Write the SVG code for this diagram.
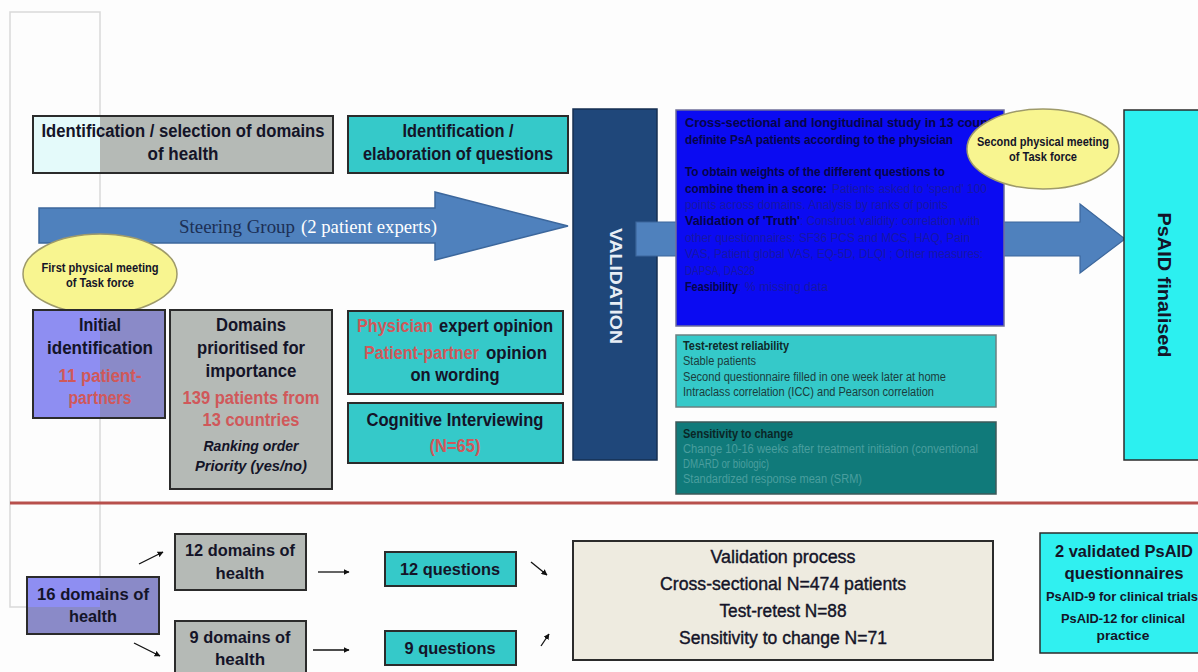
<svg xmlns="http://www.w3.org/2000/svg" width="1198" height="672" viewBox="0 0 1198 672">
<defs>
<style>
.bx{stroke:#2b2b2b;stroke-width:2}
.gray{fill:#b5bab6}
.teal{fill:#35c9c9}
.lav{fill:#8a8ac8}
.lavL{fill:#8e8ef2}
.ell{fill:#f8f590;stroke:#9e9a6a;stroke-width:1.5}
.t{font-family:"Liberation Sans",Arial,sans-serif;font-weight:bold;fill:#141428;text-anchor:middle}
.ts{font-family:"Liberation Sans",Arial,sans-serif;font-weight:bold;fill:#141428}
.red{fill:#d0585a}
.s18{font-size:18px}
.s17{font-size:17px}
.s12{font-size:12px}
.sm{font-family:"Liberation Sans",Arial,sans-serif;font-size:12px}
.bt{fill:#05054a;font-weight:bold}
.bn{fill:#1717a6}
.vp{font-weight:normal;stroke:#141428;stroke-width:0.4}
.conn{stroke:#111;stroke-width:1.3;fill:none;marker-end:url(#ah)}
</style>
<marker id="ah" viewBox="0 0 10 10" refX="9" refY="5" markerWidth="6" markerHeight="6" orient="auto" markerUnits="userSpaceOnUse">
<path d="M0,0 L10,5 L0,10 z" fill="#111"/>
</marker>
</defs>
<rect x="0" y="0" width="1198" height="672" fill="#fdfdfd"/>

<rect x="10" y="12" width="90" height="595" fill="none" stroke="#d9d9d9" stroke-width="1.5"/>

<g id="n-domains-header">
<rect class="bx gray" x="33" y="116" width="300" height="57"/>
<rect x="34" y="117" width="66" height="55" fill="#e4fafa"/>
<text class="t s18" x="183" y="137" textLength="283" lengthAdjust="spacingAndGlyphs">Identification / selection of domains</text>
<text class="t s18" x="183" y="160" textLength="71" lengthAdjust="spacingAndGlyphs">of health</text>
</g>

<g id="n-questions-header">
<rect class="bx teal" x="348" y="116" width="220" height="57"/>
<text class="t s18" x="458" y="137" textLength="111" lengthAdjust="spacingAndGlyphs">Identification /</text>
<text class="t s18" x="458" y="160" textLength="190" lengthAdjust="spacingAndGlyphs">elaboration of questions</text>
</g>

<g id="n-steering">
<polygon points="39,208 435,208 435,192 568,226 435,260 435,243 39,243" fill="#4f81bd" stroke="#3c679c" stroke-width="1.5"/>
<text x="179" y="233" font-family="'Liberation Serif','Times New Roman',serif" font-size="19" fill="#1c2f55" textLength="116" lengthAdjust="spacingAndGlyphs">Steering Group</text>
<text x="301" y="233" font-family="'Liberation Serif','Times New Roman',serif" font-size="19" fill="#ffffff" textLength="136" lengthAdjust="spacingAndGlyphs">(2 patient experts)</text>
</g>

<g id="n-meeting1">
<ellipse class="ell" cx="100" cy="274" rx="77" ry="40"/>
<text class="t s12" x="100" y="272" textLength="117" lengthAdjust="spacingAndGlyphs">First physical meeting</text>
<text class="t s12" x="100" y="287" textLength="68" lengthAdjust="spacingAndGlyphs">of Task force</text>
</g>

<g id="n-initial">
<rect class="bx lav" x="33" y="310" width="132" height="108"/>
<rect class="lavL" x="34" y="311" width="66" height="106"/>
<text class="t s18" x="100" y="331" textLength="42" lengthAdjust="spacingAndGlyphs">Initial</text>
<text class="t s18" x="100" y="354" textLength="106" lengthAdjust="spacingAndGlyphs">identification</text>
<text class="t s18 red" x="100" y="382" textLength="83" lengthAdjust="spacingAndGlyphs">11 patient-</text>
<text class="t s18 red" x="100" y="404" textLength="63" lengthAdjust="spacingAndGlyphs">partners</text>
</g>

<g id="n-prioritised">
<rect class="bx gray" x="170" y="310" width="162" height="179"/>
<text class="t s18" x="251" y="331" textLength="70" lengthAdjust="spacingAndGlyphs">Domains</text>
<text class="t s18" x="251" y="354" textLength="108" lengthAdjust="spacingAndGlyphs">prioritised for</text>
<text class="t s18" x="251" y="377" textLength="91" lengthAdjust="spacingAndGlyphs">importance</text>
<text class="t s18 red" x="251" y="404" textLength="137" lengthAdjust="spacingAndGlyphs">139 patients from</text>
<text class="t s18 red" x="251" y="426" textLength="97" lengthAdjust="spacingAndGlyphs">13 countries</text>
<text class="t" x="251" y="451" font-size="15" font-style="italic" textLength="95" lengthAdjust="spacingAndGlyphs">Ranking order</text>
<text class="t" x="251" y="471" font-size="15" font-style="italic" textLength="112" lengthAdjust="spacingAndGlyphs">Priority (yes/no)</text>
</g>

<g id="n-opinion">
<rect class="bx teal" x="348" y="311" width="215" height="83"/>
<text class="ts s18 red" x="357" y="332" textLength="76" lengthAdjust="spacingAndGlyphs">Physician</text>
<text class="ts s18" x="439" y="332" textLength="114" lengthAdjust="spacingAndGlyphs">expert opinion</text>
<text class="ts s18 red" x="364" y="359" textLength="115" lengthAdjust="spacingAndGlyphs">Patient-partner</text>
<text class="ts s18" x="486" y="359" textLength="61" lengthAdjust="spacingAndGlyphs">opinion</text>
<text class="t s18" x="455" y="381" textLength="89" lengthAdjust="spacingAndGlyphs">on wording</text>
</g>

<g id="n-cognitive">
<rect class="bx teal" x="348" y="403" width="215" height="60"/>
<text class="t s18" x="455" y="426" textLength="177" lengthAdjust="spacingAndGlyphs">Cognitive Interviewing</text>
<text class="t s18 red" x="455" y="452" textLength="51" lengthAdjust="spacingAndGlyphs">(N=65)</text>
</g>

<g id="n-validation">
<rect x="573" y="109" width="84" height="351" fill="#1f477a" stroke="#162f52" stroke-width="1.5"/>
<text class="t" x="0" y="0" font-size="17" style="fill:#e8eef5" transform="translate(610,286) rotate(90)" textLength="116" lengthAdjust="spacingAndGlyphs">VALIDATION</text>
</g>

<g id="connectors-main">
<polygon points="636,222 1080,222 1080,204 1125,239 1080,273 1080,256 636,256" fill="#4f81bd" stroke="#3c679c" stroke-width="1.2"/>
</g>

<g id="n-study">
<rect x="676" y="110" width="328" height="216" fill="#0b0bf2" stroke="#6f6f9a" stroke-width="1.5"/>
<text class="sm bt" x="685" y="127" textLength="330" lengthAdjust="spacingAndGlyphs">Cross-sectional  and longitudinal  study  in 13 countries</text>
<text class="sm bt" x="685" y="144" textLength="268" lengthAdjust="spacingAndGlyphs">definite PsA patients  according to the physician</text>
<text class="sm bt" x="685" y="176" textLength="260" lengthAdjust="spacingAndGlyphs">To obtain weights of the different questions  to</text>
<text class="sm bt" x="685" y="193" textLength="142" lengthAdjust="spacingAndGlyphs">combine them in a score:</text>
<text class="sm bn" x="832" y="193" textLength="155" lengthAdjust="spacingAndGlyphs">Patients  asked to 'spend' 100</text>
<text class="sm bn" x="685" y="209" textLength="263" lengthAdjust="spacingAndGlyphs">points across domains. Analysis by ranks of points</text>
<text class="sm bt" x="685" y="225" textLength="115" lengthAdjust="spacingAndGlyphs">Validation of 'Truth'</text>
<text class="sm bn" x="800" y="225" textLength="180" lengthAdjust="spacingAndGlyphs">: Construct validity: correlation with</text>
<text class="sm bn" x="685" y="242" textLength="285" lengthAdjust="spacingAndGlyphs">other questionnaires:  SF36 PCS and MCS, HAQ, Pain</text>
<text class="sm bn" x="685" y="258" textLength="298" lengthAdjust="spacingAndGlyphs">VAS, Patient global VAS, EQ-5D, DLQI ; Other measures:</text>
<text class="sm bn" x="685" y="275" textLength="70" lengthAdjust="spacingAndGlyphs">DAPSA, DAS28</text>
<text class="sm bt" x="685" y="291" textLength="53" lengthAdjust="spacingAndGlyphs">Feasibility</text>
<text class="sm bn" x="738" y="291" textLength="90" lengthAdjust="spacingAndGlyphs">: % missing data</text>
</g>

<g id="n-meeting2">
<ellipse class="ell" cx="1043" cy="149" rx="76" ry="40"/>
<text class="t s12" x="1043" y="146" textLength="132" lengthAdjust="spacingAndGlyphs">Second physical meeting</text>
<text class="t s12" x="1043" y="161" textLength="68" lengthAdjust="spacingAndGlyphs">of Task force</text>
</g>

<g id="n-testretest">
<rect x="676" y="335" width="320" height="72" fill="#35c9c9" stroke="#6a8080" stroke-width="1.5"/>
<text class="sm" x="683" y="350" font-weight="bold" fill="#0f2a2a" textLength="106" lengthAdjust="spacingAndGlyphs">Test-retest reliability</text>
<text class="sm" x="683" y="365" fill="#1b3d3d" textLength="73" lengthAdjust="spacingAndGlyphs">Stable patients</text>
<text class="sm" x="683" y="381" fill="#1b3d3d" textLength="263" lengthAdjust="spacingAndGlyphs">Second questionnaire filled in one week later at home</text>
<text class="sm" x="683" y="396" fill="#1b3d3d" textLength="251" lengthAdjust="spacingAndGlyphs">Intraclass correlation (ICC) and Pearson correlation</text>
</g>

<g id="n-sensitivity">
<rect x="676" y="422" width="320" height="72" fill="#107a7a" stroke="#3c5a5a" stroke-width="1.5"/>
<text class="sm" x="683" y="438" font-weight="bold" fill="#0a2626" textLength="110" lengthAdjust="spacingAndGlyphs">Sensitivity to change</text>
<text class="sm" x="683" y="453" fill="#4a9e9e" textLength="295" lengthAdjust="spacingAndGlyphs">Change 10-16 weeks after treatment initiation (conventional</text>
<text class="sm" x="683" y="468" fill="#4a9e9e" textLength="86" lengthAdjust="spacingAndGlyphs">DMARD or biologic)</text>
<text class="sm" x="683" y="483" fill="#4a9e9e" textLength="179" lengthAdjust="spacingAndGlyphs">Standardized response mean (SRM)</text>
</g>

<g id="n-finalised">
<rect x="1124" y="110" width="80" height="350" fill="#2cf0f0" stroke="#2b2b2b" stroke-width="1.5"/>
<text class="t" x="0" y="0" font-size="19" transform="translate(1158,285) rotate(90)" textLength="145" lengthAdjust="spacingAndGlyphs">PsAID finalised</text>
</g>

<line x1="10" y1="503" x2="1198" y2="503" stroke="#b8504c" stroke-width="3"/>

<g id="n-16domains">
<rect class="bx lav" x="27" y="577" width="132" height="57"/>
<rect class="lavL" x="28" y="578" width="72" height="29"/>
<text class="t s17" x="93" y="600" textLength="112" lengthAdjust="spacingAndGlyphs">16 domains of</text>
<text class="t s17" x="93" y="622" textLength="48" lengthAdjust="spacingAndGlyphs">health</text>
</g>

<g id="n-12domains">
<rect class="bx gray" x="175" y="534" width="131" height="56"/>
<text class="t s17" x="240" y="556" textLength="110" lengthAdjust="spacingAndGlyphs">12 domains of</text>
<text class="t s17" x="240" y="579" textLength="49" lengthAdjust="spacingAndGlyphs">health</text>
</g>

<g id="n-9domains">
<rect class="bx gray" x="175" y="621" width="131" height="56"/>
<text class="t s17" x="240" y="643" textLength="101" lengthAdjust="spacingAndGlyphs">9 domains of</text>
<text class="t s17" x="240" y="665" textLength="50" lengthAdjust="spacingAndGlyphs">health</text>
</g>

<g id="n-12q">
<rect class="bx teal" x="385" y="552" width="131" height="34"/>
<text class="t s17" x="450" y="575" textLength="100" lengthAdjust="spacingAndGlyphs">12 questions</text>
</g>

<g id="n-9q">
<rect class="bx teal" x="385" y="631" width="131" height="34"/>
<text class="t s17" x="450" y="654" textLength="91" lengthAdjust="spacingAndGlyphs">9 questions</text>
</g>

<g id="n-valprocess">
<rect x="573" y="541" width="420" height="119" fill="#eeebe0" stroke="#2b2b2b" stroke-width="2"/>
<text class="t s18 vp" x="783" y="563" textLength="145" lengthAdjust="spacingAndGlyphs">Validation process</text>
<text class="t s18 vp" x="783" y="590" textLength="246" lengthAdjust="spacingAndGlyphs">Cross-sectional N=474 patients</text>
<text class="t s18 vp" x="783" y="617" textLength="127" lengthAdjust="spacingAndGlyphs">Test-retest N=88</text>
<text class="t s18 vp" x="783" y="644" textLength="208" lengthAdjust="spacingAndGlyphs">Sensitivity to change N=71</text>
</g>

<g id="n-validated">
<rect x="1040" y="533" width="164" height="120" fill="#30f0f0" stroke="#2b2b2b" stroke-width="1.5"/>
<text class="t s17" x="1124" y="557" textLength="138" lengthAdjust="spacingAndGlyphs">2 validated PsAID</text>
<text class="t s17" x="1124" y="579" textLength="119" lengthAdjust="spacingAndGlyphs">questionnaires</text>
<text class="t" x="1122" y="601" font-size="13" textLength="152" lengthAdjust="spacingAndGlyphs">PsAID-9 for clinical trials</text>
<text class="t" x="1123" y="623" font-size="13" textLength="124" lengthAdjust="spacingAndGlyphs">PsAID-12 for clinical</text>
<text class="t" x="1123" y="640" font-size="13" textLength="53" lengthAdjust="spacingAndGlyphs">practice</text>
</g>

<g id="connectors">
<line class="conn" x1="139" y1="564" x2="163" y2="552"/>
<line class="conn" x1="134" y1="643" x2="160" y2="656"/>
<line class="conn" x1="318" y1="572" x2="349" y2="572"/>
<line class="conn" x1="313" y1="650" x2="349" y2="650"/>
<line class="conn" x1="531" y1="562" x2="547" y2="575"/>
<line class="conn" x1="541" y1="646" x2="549" y2="634"/>
</g>
</svg>
